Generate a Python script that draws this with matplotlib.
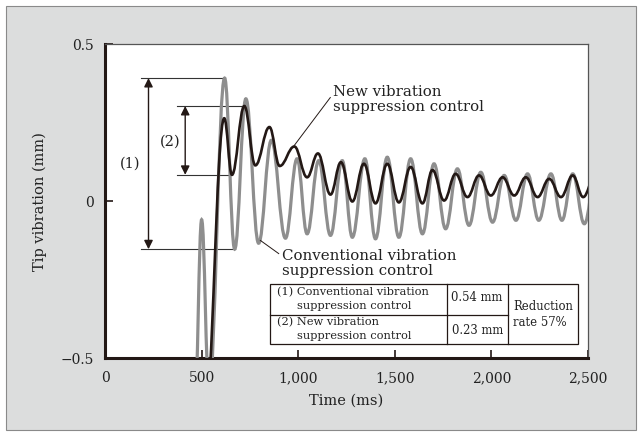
import matplotlib
matplotlib.use('Agg')
import matplotlib.pyplot as plt
from matplotlib.path import Path
from matplotlib.patches import PathPatch, Rectangle
from matplotlib import ticker

# extrema of the two responses (time in ms, tip vibration in mm)
conv_t = [465, 500, 538, 619, 671, 729, 795, 861, 934, 994, 1046, 1106, 1167, 1228, 1280,
          1345, 1400, 1461, 1521, 1582, 1643, 1703, 1763, 1824, 1884, 1945, 2006, 2066,
          2127, 2187, 2245, 2308, 2365, 2421, 2481, 2541]
conv_v = [-0.65, -0.058, -0.60, 0.393, -0.152, 0.327, -0.133, 0.195, -0.117, 0.136, -0.103,
          0.13, -0.108, 0.13, -0.114, 0.136, -0.119, 0.141, -0.114, 0.136, -0.103, 0.12,
          -0.087, 0.104, -0.076, 0.093, -0.066, 0.083, -0.06, 0.088, -0.06, 0.088, -0.06,
          0.088, -0.071, 0.09]

new_t = [516, 617, 657, 721, 778, 851, 904, 980, 1046, 1102, 1167, 1221, 1280, 1340, 1400,
         1461, 1521, 1582, 1643, 1695, 1755, 1815, 1876, 1936, 1997, 2058, 2118, 2178, 2239,
         2299, 2360, 2421, 2475, 2535]
new_v = [-0.69, 0.265, 0.085, 0.304, 0.115, 0.237, 0.113, 0.175, 0.077, 0.153, 0.022, 0.125,
         0.0, 0.12, -0.006, 0.12, -0.003, 0.11, -0.006, 0.10, 0.003, 0.088, 0.014, 0.083,
         0.019, 0.077, 0.019, 0.077, 0.014, 0.072, 0.014, 0.083, 0.014, 0.08]

x_ticks = [0, 500, 1000, 1500, 2000, 2500]
y_ticks = [-0.5, 0, 0.5]
y_tick_labels = ['\u22120.5', '0', '0.5']

table_rows = [('(1) Conventional vibration', 'suppression control', '0.54 mm'),
              ('(2) New vibration', 'suppression control', '0.23 mm')]
table_note = 'Reduction\nrate 57%'

DARK = '#231815'
GRAY = '#8e8e8e'
FONT = 'DejaVu Serif'

plt.rcParams['font.family'] = FONT


def smooth_path(t, v, h=0.4):
    # cubic segments with flat tangents at each extremum
    verts = [(t[0], v[0])]
    codes = [Path.MOVETO]
    for i in range(1, len(t)):
        dt = t[i] - t[i - 1]
        verts += [(t[i - 1] + h * dt, v[i - 1]), (t[i] - h * dt, v[i]), (t[i], v[i])]
        codes += [Path.CURVE4] * 3
    return Path(verts, codes)


fig = plt.figure(figsize=(6.42, 4.36), dpi=100, facecolor='white')
fig.patches.append(Rectangle((6 / 642, 6 / 436), 630 / 642, 424 / 436, transform=fig.transFigure,
                             facecolor='#dcdddd', edgecolor='#8a8a8a', lw=0.8, zorder=-5))
ax = fig.add_axes([0.1636, 0.1778, 0.7523, 0.7202])
ax.set_facecolor('white')

ax.add_patch(PathPatch(smooth_path(conv_t, conv_v), facecolor='none', edgecolor=GRAY, lw=2.3,
                       capstyle='round', zorder=3))
ax.add_patch(PathPatch(smooth_path(new_t, new_v), facecolor='none', edgecolor=DARK, lw=1.9,
                       capstyle='round', zorder=4))

ax.set_xlim(0, 2500)
ax.set_ylim(-0.5, 0.5)
ax.set_xticks(x_ticks)
ax.set_yticks(y_ticks)
ax.set_yticklabels(y_tick_labels)
ax.xaxis.set_major_formatter(ticker.FuncFormatter(lambda x, p: f'{int(x):,}'))
ax.tick_params(direction='in', length=6, width=1.2, color=DARK, labelsize=10, labelcolor='#222222')
ax.tick_params(axis='y', pad=8)
ax.tick_params(axis='x', pad=9)

for side in ['left', 'bottom']:
    ax.spines[side].set_linewidth(2.2)
    ax.spines[side].set_color(DARK)
for side in ['top', 'right']:
    ax.spines[side].set_linewidth(0.9)
    ax.spines[side].set_color('#555555')

ax.set_xlabel('Time (ms)', fontsize=10.5, color='#222222', labelpad=6)
ax.set_ylabel('Tip vibration (mm)', fontsize=10.5, color='#222222', labelpad=10)

# amplitude markers (1) and (2)
i1 = conv_v.index(max(conv_v))
i2 = new_v.index(max(new_v))
marks = [(185, 225, conv_t[i1], conv_v[i1], conv_t[i1 + 1], conv_v[i1 + 1], '(1)', 131, 0.12),
         (375, 415, new_t[i2], new_v[i2], new_t[i2 - 1], new_v[i2 - 1], '(2)', 337, 0.19)]
for x0, xa, tt, vt, tb, vb, lab, xl, yl in marks:
    ax.plot([x0, tt], [vt, vt], color='#333333', lw=0.8, zorder=2)
    ax.plot([x0, tb], [vb, vb], color='#333333', lw=0.8, zorder=2)
    ax.annotate('', xy=(xa, vt), xytext=(xa, vb),
                arrowprops=dict(arrowstyle='<|-|>', color=DARK, lw=1.0, mutation_scale=13,
                                shrinkA=0, shrinkB=0), zorder=2)
    ax.text(xl, yl, lab, ha='center', va='center', fontsize=10.5, color='#222222')

# curve labels with leader lines
ax.plot([1166, 979], [0.331, 0.178], color=DARK, lw=0.7, zorder=5)
ax.text(1180, 0.325, 'New vibration\nsuppression control', ha='left', va='center',
        fontsize=10.8, linespacing=1.05, color='#222222')
ax.plot([804, 899], [-0.124, -0.166], color=DARK, lw=0.7, zorder=5)
ax.text(914, -0.198, 'Conventional vibration\nsuppression control', ha='left', va='center',
        fontsize=10.8, linespacing=1.05, color='#222222')

# summary table (axes fraction)
tx = [0.342, 0.7075, 0.8334, 0.980]
ty = [0.2357, 0.140, 0.0468]
tr = ax.transAxes
ax.add_patch(Rectangle((tx[0], ty[2]), tx[3] - tx[0], ty[0] - ty[2], transform=tr,
                       facecolor='white', edgecolor=DARK, lw=0.9, zorder=6))
ax.plot([tx[0], tx[2]], [ty[1], ty[1]], transform=tr, color=DARK, lw=0.9, zorder=7)
for xv in tx[1:3]:
    ax.plot([xv, xv], [ty[2], ty[0]], transform=tr, color=DARK, lw=0.9, zorder=7)
for k, (l1, l2, val) in enumerate(table_rows):
    ytop, ybot = ty[k], ty[k + 1]
    h = ytop - ybot
    ax.text(tx[0] + 0.014, ytop - 0.27 * h, l1, transform=tr, ha='left', va='center',
            fontsize=8.2, color='#222222', zorder=8)
    ax.text(tx[0] + 0.056, ytop - 0.73 * h, l2, transform=tr, ha='left', va='center',
            fontsize=8.2, color='#222222', zorder=8)
    ax.text((tx[1] + tx[2]) / 2, ytop - (0.45 if k == 0 else 0.55) * h, val, transform=tr,
            ha='center', va='center', fontsize=8.4, color='#222222', zorder=8)
ax.text(tx[2] + 0.012, ty[1], table_note, transform=tr, ha='left', va='center',
        fontsize=8.4, linespacing=1.3, color='#222222', zorder=8)

fig.savefig('out.png', dpi=100, facecolor=fig.get_facecolor())
